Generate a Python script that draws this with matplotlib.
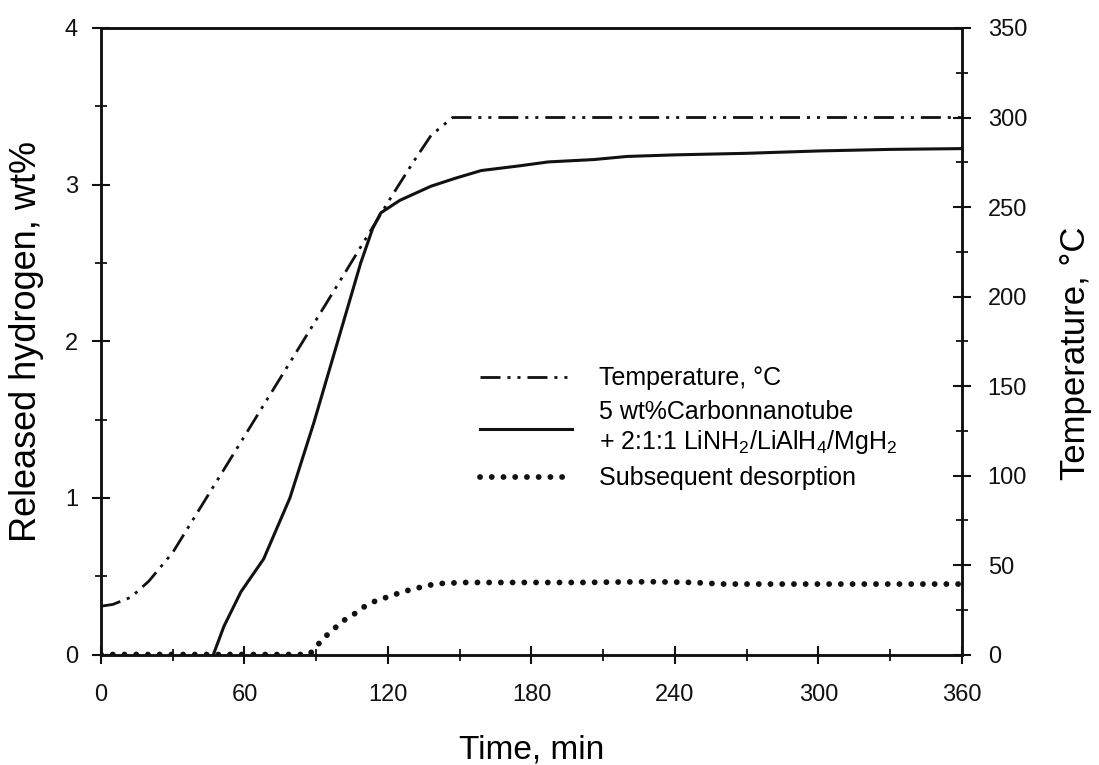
import matplotlib.pyplot as plt
from matplotlib.ticker import MultipleLocator

plt.rcParams['font.family'] = ['Liberation Sans', 'DejaVu Sans']
plt.rcParams['mathtext.fontset'] = 'custom'
plt.rcParams['mathtext.rm'] = 'Liberation Sans'
plt.rcParams['mathtext.it'] = 'Liberation Sans:italic'

# heating program, degC
time_temp = [0, 5, 12.5, 20, 25, 30, 60, 90, 122, 131, 138, 147, 360]
temp_c = [27, 28, 32, 41, 49, 57, 122, 187, 257, 276, 290, 300, 300]

# first desorption, 5 wt% CNT + 2:1:1 LiNH2/LiAlH4/MgH2
time_h2 = [47, 51.4, 58.5, 68, 79, 89, 99, 108.6, 113.6, 117, 125, 138, 148,
           159, 175, 187, 206, 220, 240, 270, 300, 330, 360]
h2_wt = [0, 0.18, 0.40, 0.61, 1.0, 1.48, 2.0, 2.5, 2.72, 2.82, 2.90, 2.99, 3.04,
         3.09, 3.12, 3.145, 3.16, 3.18, 3.19, 3.20, 3.215, 3.225, 3.23]

# second run
time_des = [0, 87, 89, 92.7, 96.8, 100.7, 106, 111, 115.9, 120.6, 125.9, 131.2,
            136.2, 141.3, 151.8, 170, 200, 230, 248, 260, 300, 340, 360]
des_wt = [0, 0, 0.03, 0.10, 0.155, 0.21, 0.26, 0.315, 0.35, 0.37, 0.40, 0.42,
          0.44, 0.453, 0.46, 0.46, 0.46, 0.465, 0.46, 0.45, 0.45, 0.45, 0.45]

fig = plt.figure(figsize=(10.99, 7.65), dpi=100)
ax = fig.add_axes([0.0919, 0.1444, 0.7834, 0.8190])
ax2 = ax.twinx()

ln_t, = ax2.plot(time_temp, temp_c, color='#111111', lw=2.0,
                 dashes=(7.2, 2.5, 1.1, 2.5, 1.1, 2.5),
                 label='Temperature, °C')
ln_h, = ax.plot(time_h2, h2_wt, color='#111111', lw=2.2,
                label='5 wt%Carbonnanotube\n+ 2:1:1 LiNH$_2$/LiAlH$_4$/MgH$_2$')
ln_d, = ax.plot(time_des, des_wt, color='#111111', lw=4.2,
                ls=(0, (0.01, 2.0)), dash_capstyle='round',
                label='Subsequent desorption')

ax.set_xlim(0, 360)
ax.set_ylim(0, 4)
ax2.set_ylim(0, 350)
ax.xaxis.set_major_locator(MultipleLocator(60))
ax.xaxis.set_minor_locator(MultipleLocator(30))
ax.yaxis.set_major_locator(MultipleLocator(1))
ax.yaxis.set_minor_locator(MultipleLocator(0.5))
ax2.yaxis.set_major_locator(MultipleLocator(50))
ax2.yaxis.set_minor_locator(MultipleLocator(25))

for a in (ax, ax2):
    a.tick_params(which='major', direction='inout', length=13, width=1.5,
                  labelsize=17, colors='#111111')
    a.tick_params(which='minor', direction='inout', length=8, width=1.3,
                  colors='#111111')
    for s in a.spines.values():
        s.set_linewidth(1.8)
        s.set_color('#111111')
ax.tick_params(axis='x', pad=15)
ax.tick_params(axis='y', pad=10)
ax2.tick_params(axis='y', pad=12)

ax.set_xlabel('Time, min', fontsize=24)
ax.xaxis.set_label_coords(0.5, -0.127)
ax.set_ylabel('Released hydrogen, wt%', fontsize=26)
ax.yaxis.set_label_coords(-0.066, 0.5)
ax2.set_ylabel('Temperature, °C', fontsize=25)
ax2.yaxis.set_label_coords(1.113, 0.481)

ax2.legend(handles=[ln_t, ln_h, ln_d], loc='center left',
           bbox_to_anchor=(0.440, 0.361), frameon=False, fontsize=18,
           handlelength=3.7, handletextpad=1.05, labelspacing=0.4,
           borderpad=0, borderaxespad=0)

fig.savefig('out.png', dpi=100, facecolor='white')
